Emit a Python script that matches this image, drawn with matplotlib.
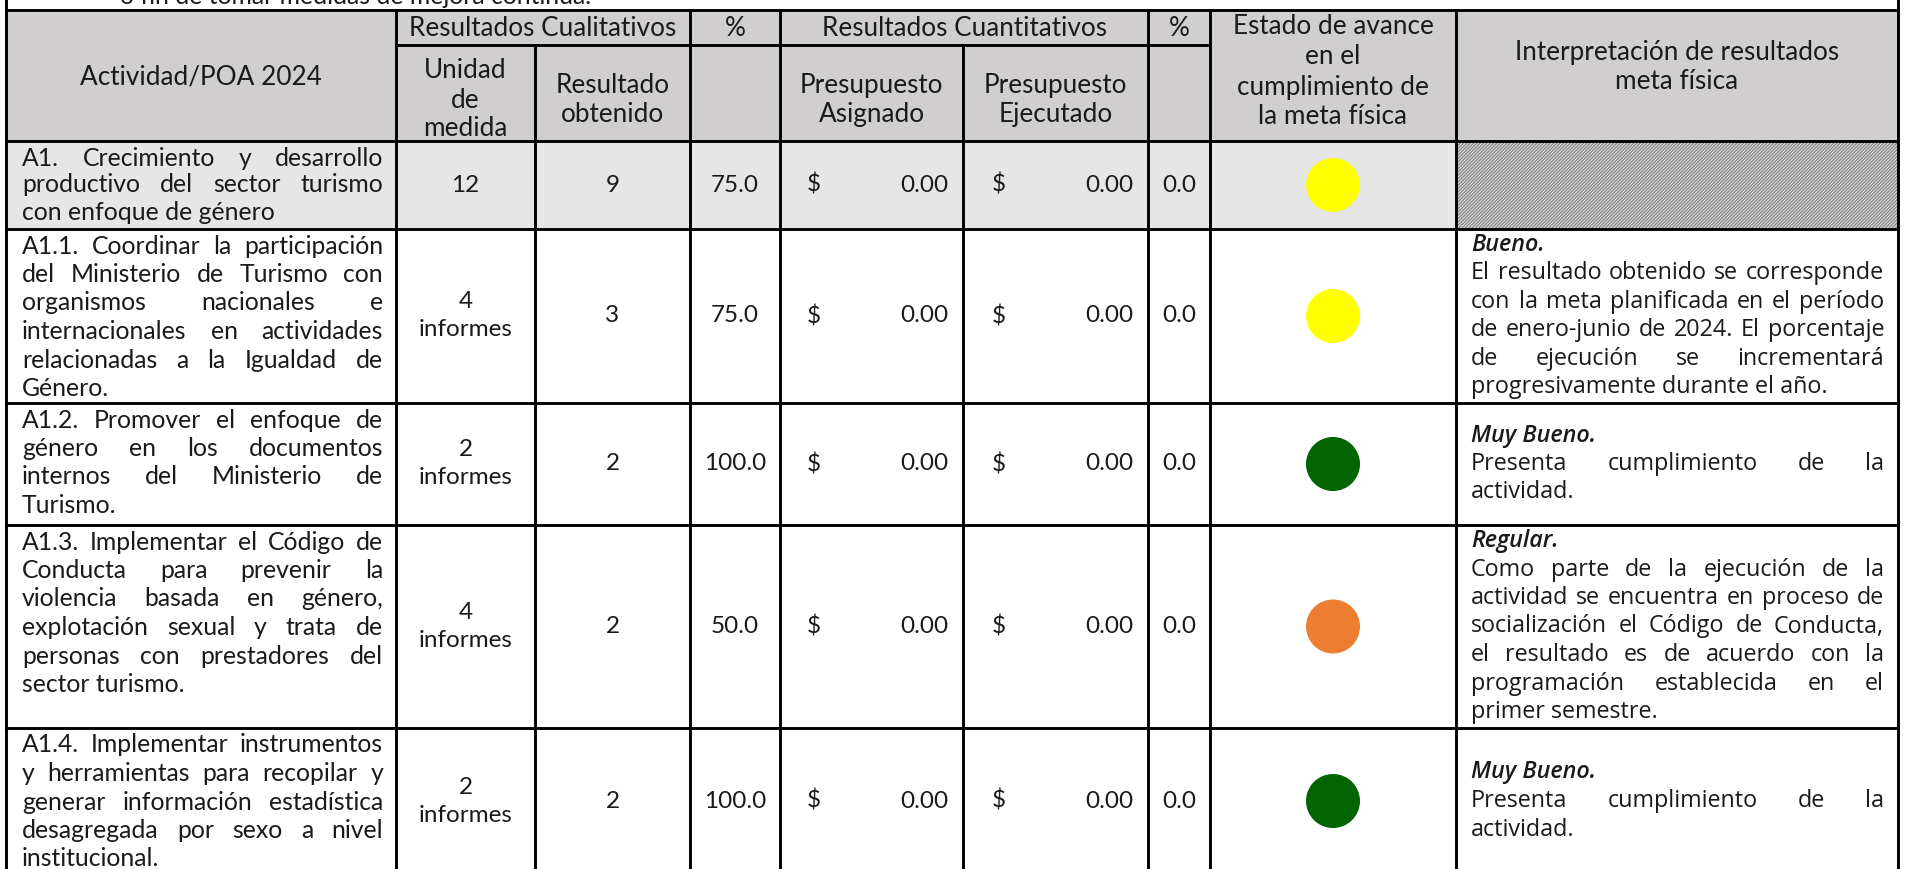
import matplotlib
matplotlib.use('Agg')
import matplotlib.pyplot as plt
from matplotlib.patches import Rectangle, Circle

actividades = [
    ["A1. Crecimiento y desarrollo", "productivo del sector turismo", "con enfoque de género"],
    ["A1.1. Coordinar la participación", "del Ministerio de Turismo con", "organismos nacionales e",
     "internacionales en actividades", "relacionadas a la Igualdad de", "Género."],
    ["A1.2. Promover el enfoque de", "género en los documentos", "internos del Ministerio de", "Turismo."],
    ["A1.3. Implementar el Código de", "Conducta para prevenir la", "violencia basada en género,",
     "explotación sexual y trata de", "personas con prestadores del", "sector turismo."],
    ["A1.4. Implementar instrumentos", "y herramientas para recopilar y", "generar información estadística",
     "desagregada por sexo a nivel", "institucional."],
]
unidad = [["12"], ["4", "informes"], ["2", "informes"], ["4", "informes"], ["2", "informes"]]
resultado = [9, 3, 2, 2, 2]
porcentaje = [75.0, 75.0, 100.0, 50.0, 100.0]
asignado = [0.00, 0.00, 0.00, 0.00, 0.00]
ejecutado = [0.00, 0.00, 0.00, 0.00, 0.00]
porc_cuant = [0.0, 0.0, 0.0, 0.0, 0.0]
semaforo = ["#ffff00", "#ffff00", "#006400", "#ed7d31", "#006400"]
calificacion = [None, "Bueno.", "Muy Bueno.", "Regular.", "Muy Bueno."]
interpretacion = [
    [],
    ["El resultado obtenido se corresponde", "con la meta planificada en el período",
     "de enero-junio de 2024. El porcentaje", "de ejecución se incrementará",
     "progresivamente durante el año."],
    ["Presenta cumplimiento de la", "actividad."],
    ["Como parte de la ejecución de la", "actividad se encuentra en proceso de",
     "socialización el Código de Conducta,", "el resultado es de acuerdo con la",
     "programación establecida en el", "primer semestre."],
    ["Presenta cumplimiento de la", "actividad."],
]

# ---- layout (pixels) ----
W, H = 1909, 869
cols = [6, 396, 535, 690, 780, 963, 1148, 1210, 1456, 1898]
rows = [141, 229, 403, 525, 728, 874]
top, mid = 10, 45
HEAD = '#d0cece'
A1BG = '#e7e6e6'
LW = 2.1

fig = plt.figure(figsize=(W / 100, H / 100), dpi=100)
ax = fig.add_axes([0, 0, 1, 1])
ax.set_xlim(0, W)
ax.set_ylim(H, 0)
ax.axis('off')
rend = fig.canvas.get_renderer()

HDR = dict(family='Lato', size=18.8, color='#1a1a1a')
FONT = dict(family='Lato', size=17.8, color='#1a1a1a')
NUM = dict(family='Lato', size=17.5, color='#1a1a1a')
INT = dict(family='Open Sans', size=16.8, color='#1a1a1a')


def width(s, kw):
    t = ax.text(0, 0, s, **kw)
    w = t.get_window_extent(renderer=rend).width
    t.remove()
    return w


def justified(lines, x0, x1, y0, dy, kw):
    for i, line in enumerate(lines):
        y = y0 + i * dy
        words = line.split()
        if i == len(lines) - 1 or len(words) == 1:
            ax.text(x0, y, line, ha='left', va='center', **kw)
            continue
        ws = [width(w, kw) for w in words]
        gap = max((x1 - x0 - sum(ws)) / (len(words) - 1), 3)
        x = x0
        for w, wd in zip(words, ws):
            ax.text(x, y, w, ha='left', va='center', **kw)
            x += wd + gap


def stacked(x, yc, lines, dy, kw):
    y0 = yc - dy * (len(lines) - 1) / 2
    for i, s in enumerate(lines):
        ax.text(x, y0 + i * dy, s, ha='center', va='center', **kw)


# cut-off line of text above the table
ax.text(120, 4, "o fin de tomar medidas de mejora continua.", ha='left', va='baseline', **FONT)

# backgrounds
ax.add_patch(Rectangle((cols[0], top), cols[-1] - cols[0], rows[0] - top, fc=HEAD, lw=0))
ax.add_patch(Rectangle((cols[0], rows[0]), cols[-2] - cols[0], rows[1] - rows[0], fc=A1BG, lw=0))
plt.rcParams['hatch.linewidth'] = 0.9
ax.add_patch(Rectangle((cols[-2], rows[0]), cols[-1] - cols[-2], rows[1] - rows[0],
                       fc='#d9d9d9', ec='#8a8a8a', lw=0, hatch='//////////'))

# grid lines
ax.plot([cols[0], cols[0]], [0, H], color='black', lw=LW)
ax.plot([cols[-1], cols[-1]], [0, H], color='black', lw=LW)
ax.plot([cols[0], cols[-1]], [top, top], color='black', lw=LW)
ax.plot([cols[1], cols[7]], [mid, mid], color='black', lw=LW)
for y in rows[:-1]:
    ax.plot([cols[0], cols[-1]], [y, y], color='black', lw=LW)
for i in [1, 3, 4, 6, 7, 8]:
    ax.plot([cols[i], cols[i]], [top, H], color='black', lw=LW)
for i in [2, 5]:
    ax.plot([cols[i], cols[i]], [mid, H], color='black', lw=LW)


def cx(a, b):
    return (cols[a] + cols[b]) / 2


# header texts
ax.text(cx(0, 1), 77, "Actividad/POA 2024", ha='center', va='center', **HDR)
ax.text(cx(1, 3), 29, "Resultados Cualitativos", ha='center', va='center', **HDR)
ax.text(cx(3, 4), 29, "%", ha='center', va='center', **HDR)
ax.text(cx(4, 6), 29, "Resultados Cuantitativos", ha='center', va='center', **HDR)
ax.text(cx(6, 7), 29, "%", ha='center', va='center', **HDR)
stacked(cx(1, 2), 100, ["Unidad", "de", "medida"], 29, HDR)
stacked(cx(2, 3), 100, ["Resultado", "obtenido"], 29, HDR)
stacked(cx(4, 5), 100, ["Presupuesto", "Asignado"], 29, HDR)
stacked(cx(5, 6), 100, ["Presupuesto", "Ejecutado"], 29, HDR)
stacked(cx(7, 8), 72, ["Estado de avance", "en el", "cumplimiento de", "la meta física"], 30, HDR)
stacked(cx(8, 9), 67, ["Interpretación de resultados", "meta física"], 29, HDR)

# body rows
for r in range(len(actividades)):
    y_top, y_bot = rows[r], rows[r + 1]
    yc = (y_top + y_bot) / 2
    lines = actividades[r]
    if r == 0:
        justified(lines, 22, 383, yc - 27, 27, FONT)
    else:
        justified(lines, 22, 383, y_top + 17, 28.5, FONT)
    stacked(cx(1, 2), yc, unidad[r], 28, NUM)
    ax.text(cx(2, 3), yc, f"{resultado[r]}", ha='center', va='center', **NUM)
    ax.text(cx(3, 4), yc, f"{porcentaje[r]:.1f}", ha='center', va='center', **NUM)
    ax.text(cols[4] + 34, yc, "$", ha='center', va='center', **NUM)
    ax.text(cols[5] - 15, yc, f"{asignado[r]:.2f}", ha='right', va='center', **NUM)
    ax.text(cols[5] + 36, yc, "$", ha='center', va='center', **NUM)
    ax.text(cols[6] - 15, yc, f"{ejecutado[r]:.2f}", ha='right', va='center', **NUM)
    ax.text(cx(6, 7), yc, f"{porc_cuant[r]:.1f}", ha='center', va='center', **NUM)
    ax.add_patch(Circle((cx(7, 8), yc), 27, fc=semaforo[r], ec='none'))
    if calificacion[r]:
        n = len(interpretacion[r]) + 1
        y0 = yc - 28.5 * (n - 1) / 2
        ax.text(1471, y0, calificacion[r], ha='left', va='center', style='italic',
                weight='semibold', **INT)
        justified(interpretacion[r], 1471, 1884, y0 + 28.5, 28.5, INT)

fig.savefig('out.png', dpi=100, facecolor='white')
